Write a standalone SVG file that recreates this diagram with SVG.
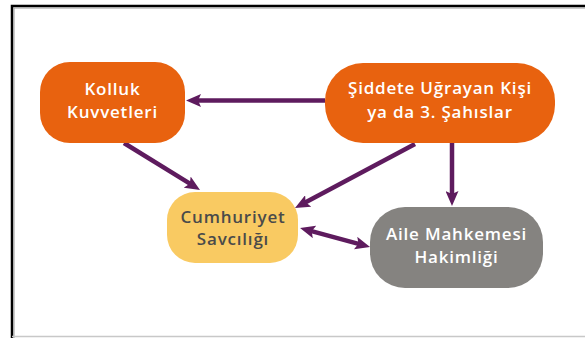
<svg xmlns="http://www.w3.org/2000/svg" width="585" height="338" viewBox="0 0 585 338">
<defs>
<marker id="ah" viewBox="0 0 15 13" refX="5" refY="6.5" markerWidth="15" markerHeight="13" markerUnits="userSpaceOnUse" orient="auto-start-reverse">
<path d="M0,0 L15,6.5 L0,13 L3,6.5 z" fill="#5E1B5E"/>
</marker>
<style>
.lbl{font-family:"Open Sans","Liberation Sans",sans-serif;font-weight:600;font-size:17px;letter-spacing:0.8px;text-anchor:middle}
.w{fill:#ffffff}
.d{fill:#4a4a4a}
.c{stroke:#5E1B5E;stroke-width:4.5;fill:none;marker-end:url(#ah)}
</style>
</defs>
<rect x="0" y="0" width="585" height="338" fill="#ffffff"/>
<path d="M12,338 L12,6 L585,6" fill="none" stroke="#000000" stroke-width="2.5"/>
<path d="M14,338 L14,8 L585,8" fill="none" stroke="#9a9a9a" stroke-width="1"/>
<line x1="12" y1="336.5" x2="585" y2="336.5" stroke="#c8c8c8" stroke-width="1.5"/>
<g id="connectors">
<line class="c" x1="325" y1="100.5" x2="196" y2="100.5"/>
<line class="c" x1="124" y1="143" x2="191.5" y2="184.7"/>
<line class="c" x1="415" y1="144" x2="303.8" y2="203.3"/>
<line class="c" x1="452" y1="143" x2="452" y2="196"/>
<line class="c" x1="309.7" y1="230.6" x2="360.4" y2="244.4" style="marker-start:url(#ah)"/>
</g>
<g id="kolluk">
<rect x="40" y="62" width="145" height="81" rx="30" fill="#E8620F"/>
<text class="lbl w" x="112.5" y="95">Kolluk</text>
<text class="lbl w" x="112.5" y="118">Kuvvetleri</text>
</g>
<g id="siddete">
<rect x="325" y="63" width="230" height="80" rx="38" fill="#E8620F"/>
<text class="lbl w" x="440" y="94">Şiddete Uğrayan Kişi</text>
<text class="lbl w" x="440" y="118">ya da 3. Şahıslar</text>
</g>
<g id="cumhuriyet">
<rect x="167" y="192" width="131" height="71" rx="28" fill="#F9CA62"/>
<text class="lbl d" x="233" y="223">Cumhuriyet</text>
<text class="lbl d" x="233" y="245">Savcılığı</text>
</g>
<g id="aile">
<rect x="370" y="207" width="173" height="81" rx="35" fill="#858380"/>
<text class="lbl w" x="456.5" y="240">Aile Mahkemesi</text>
<text class="lbl w" x="456.5" y="263">Hakimliği</text>
</g>
</svg>
